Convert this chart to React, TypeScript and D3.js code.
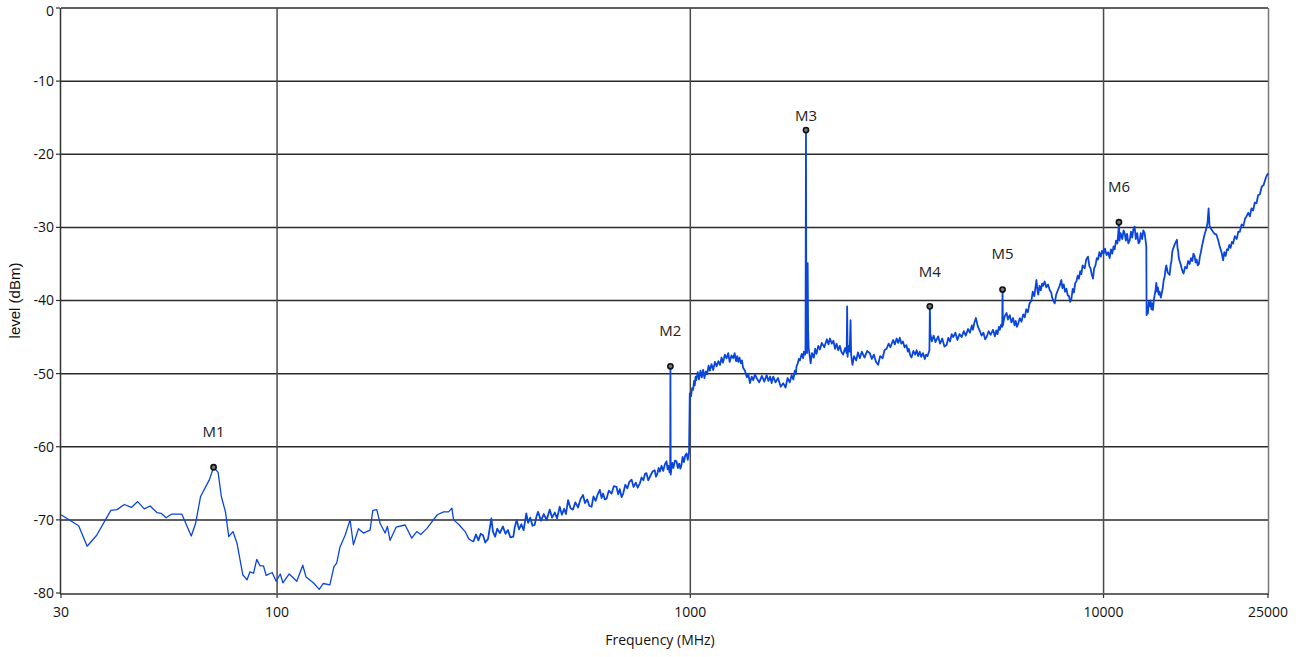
import React from "react";
import * as d3 from "d3";

// ---- data (frequency MHz, level dBm) ----
const traceLow: [number, number][] = [
  [30, -69.3], [33.1, -70.8], [34.7, -73.6], [36.6, -72.1], [39.6, -68.7], [41.0, -68.6],
  [42.7, -67.9], [44.4, -68.3], [46.0, -67.5], [47.7, -68.5], [49.3, -68.1], [51.2, -69.0],
  [52.4, -69.1], [53.9, -69.7], [55.6, -69.2], [58.8, -69.2], [62.0, -72.2], [63.5, -70.5],
  [65.3, -66.8], [68.6, -64.5], [70.2, -62.8], [72.0, -63.5], [73.3, -66.8], [75.0, -68.9],
  [76.4, -72.3], [78.2, -71.6], [80.0, -73.2], [82.6, -77.5], [84.6, -78.2], [86.0, -77.1],
  [87.7, -77.3], [89.3, -75.4], [91.0, -76.3], [92.7, -76.3], [94.1, -77.6], [97.3, -77.2],
  [99.5, -78.4], [101.8, -77.4], [103.3, -78.6], [107, -77.4], [111.6, -78.4], [115.4, -76.2],
  [117.5, -77.8], [122.4, -78.6], [126.5, -79.5], [129.4, -78.7], [134.2, -78.9], [137.3, -76.4],
  [139.4, -75.9], [142.0, -73.7], [146.1, -72.1], [150.2, -70.0], [153.0, -73.4], [157.4, -71.2],
  [161.8, -71.8], [167.9, -71.4], [170.5, -68.7], [174.3, -68.6], [177.6, -70.5], [182.6, -71.8],
  [184.9, -70.9], [187.7, -72.8], [194.1, -71.0], [204.1, -70.7], [211.8, -72.5], [217.8, -71.6],
  [222.7, -72.0], [230.3, -71.2], [238.9, -70.0], [244.3, -69.3], [252.9, -68.9], [259.9, -68.9],
  [264.9, -68.4], [267.3, -70.0], [275, -70.6], [285.2, -71.6], [291, -72.6], [298.3, -73.0],
];

const traceMid: [number, number][] = [
  [303, -72.0], [307, -72.8], [311, -71.9], [315, -72.1], [319, -73.1], [324, -72.6], [330, -69.8],
  [333, -71.6], [337, -72.3], [341, -71.2], [346, -71.8], [352, -70.9], [357, -71.9], [362, -71.4],
  [367, -72.4], [373, -72.3], [376, -71.0], [380, -70.0], [385, -71.3], [390, -70.6], [395, -71.4],
  [401, -69.1], [405, -70.4], [410, -69.7], [415, -70.8], [420, -70.7], [424, -69.6], [428, -68.9],
  [435, -70.1], [442, -69.2], [449, -70.0], [457, -68.6], [463, -69.7], [470, -69.0], [476, -69.8],
  [483, -68.2], [489, -69.3], [495, -68.5], [500, -69.2], [506, -67.3], [513, -68.4], [520, -68.6],
  [527, -67.6], [535, -68.3], [542, -67.2], [550, -66.6], [556, -67.7], [563, -67.2], [570, -68.1],
  [577, -68.2], [583, -66.8], [590, -67.4], [597, -66.5], [604, -65.9], [610, -67.0], [615, -66.4],
  [621, -67.2], [627, -67.1], [635, -66.0], [645, -66.4], [653, -65.4], [663, -65.5], [669, -66.5],
  [675, -65.8], [682, -66.9], [688, -66.4], [696, -65.2], [704, -65.7], [712, -64.8], [721, -64.5],
  [729, -65.5], [738, -64.9], [746, -65.6], [755, -65.0], [762, -64.2], [770, -64.6], [777, -63.7],
  [783, -63.6], [791, -64.6], [800, -64.0], [810, -63.4], [820, -63.2], [826, -64.1], [832, -63.7],
  [838, -62.9], [844, -63.4], [852, -62.6], [860, -63.3], [868, -62.4], [876, -62.0], [881, -63.1],
  [885, -62.6], [891, -63.5], [894, -63.2], [895, -49.0], [896.5, -63.8], [900, -63.0], [905, -62.2],
  [910, -62.9], [918, -61.9], [926, -62.0], [933, -62.9], [940, -62.3], [946, -63.0], [952, -62.5],
  [958, -61.4], [965, -62.1], [972, -61.2], [979, -60.9], [986, -61.8], [993, -60.7], [997, -52.7],
];

const traceHigh: [number, number][] = [
  [1004, -53.1], [1010, -52.0], [1016, -52.2], [1021, -51.0], [1025, -51.6], [1030, -50.4],
  [1034, -50.9], [1042, -49.8], [1050, -50.8], [1058, -49.6], [1066, -50.5], [1074, -49.5],
  [1082, -50.6], [1090, -49.7], [1098, -50.1], [1107, -48.9], [1115, -49.6], [1125, -48.7],
  [1136, -49.5], [1147, -48.4], [1158, -49.0], [1169, -48.3], [1180, -48.8], [1190, -47.8],
  [1200, -48.5], [1212, -47.4], [1224, -47.9], [1235, -47.2], [1245, -48.4], [1258, -47.5],
  [1270, -47.9], [1280, -47.2], [1290, -48.3], [1298, -47.6], [1306, -48.4], [1315, -47.8],
  [1325, -48.6], [1334, -48.2], [1342, -49.2], [1356, -49.6], [1370, -50.5], [1382, -50.1],
  [1394, -51.3], [1408, -50.4], [1420, -50.9], [1434, -50.1], [1447, -50.6], [1468, -51.2],
  [1490, -50.3], [1510, -51.1], [1530, -50.2], [1545, -51.0], [1560, -50.4], [1573, -51.3],
  [1587, -50.4], [1608, -51.2], [1630, -50.6], [1655, -51.8], [1678, -51.3], [1700, -51.9],
  [1720, -50.6], [1740, -51.2], [1759, -50.2], [1775, -50.8], [1790, -49.6], [1800, -50.1],
  [1807, -49.0], [1820, -48.6], [1830, -48.0], [1841, -48.2], [1860, -47.3], [1875, -47.9],
  [1883, -47.0], [1895, -47.4], [1900, -46.8], [1905, -16.7], [1909, -46.8], [1916, -47.2],
  [1923, -34.9], [1928, -44.0], [1933, -46.4], [1945, -47.6], [1955, -48.6], [1970, -47.2],
  [1990, -47.8], [2005, -46.6], [2020, -47.3], [2040, -46.2], [2059, -46.7], [2080, -45.8],
  [2110, -46.4], [2140, -45.3], [2160, -46.0], [2177, -45.2], [2200, -45.9], [2220, -45.5],
  [2240, -46.6], [2259, -45.9], [2280, -46.8], [2300, -46.2], [2320, -47.0], [2343, -47.4],
  [2370, -46.5], [2390, -47.2], [2396, -40.8], [2402, -47.7], [2415, -46.2], [2430, -47.0],
  [2442, -42.7], [2450, -47.4], [2460, -48.2], [2469, -48.8], [2490, -47.6], [2520, -48.2],
  [2545, -47.1], [2571, -47.9], [2600, -47.0], [2640, -47.8], [2680, -46.9], [2718, -47.2],
  [2750, -48.0], [2780, -47.4], [2815, -48.4], [2848, -48.8], [2880, -47.6], [2920, -47.9],
  [2950, -46.8], [2985, -46.6], [3020, -45.9], [3050, -46.4], [3096, -45.4], [3125, -46.0],
  [3157, -45.2], [3185, -45.8], [3213, -45.1], [3240, -45.9], [3270, -45.6], [3300, -46.4],
  [3334, -46.1], [3360, -47.0], [3380, -46.6], [3405, -47.5], [3430, -47.8], [3465, -46.9],
  [3500, -47.4], [3530, -46.8], [3559, -47.6], [3590, -47.0], [3620, -47.7], [3655, -47.2],
  [3694, -48.0], [3720, -47.4], [3750, -47.6], [3790, -46.8], [3799, -40.8], [3808, -44.5],
  [3840, -45.6], [3880, -44.8], [3920, -45.7], [3979, -44.9], [4020, -45.9], [4070, -45.2],
  [4120, -46.3], [4170, -46.1], [4210, -45.1], [4250, -45.6], [4290, -44.6], [4327, -45.0],
  [4380, -44.4], [4430, -45.4], [4480, -44.6], [4534, -45.0], [4590, -44.2], [4640, -44.8],
  [4700, -43.9], [4749, -44.4], [4800, -43.4], [4830, -44.0], [4870, -43.0], [4910, -42.4],
  [4960, -43.5], [5021, -44.2], [5070, -44.8], [5120, -44.4], [5170, -45.3], [5212, -45.0],
  [5270, -44.2], [5330, -44.7], [5400, -44.0], [5458, -44.9], [5500, -44.1], [5540, -44.6],
  [5580, -43.6], [5611, -44.0], [5650, -43.3], [5685, -43.6], [5696, -38.5], [5708, -43.4],
  [5740, -42.6], [5780, -42.0], [5825, -41.7], [5870, -42.6], [5930, -42.0], [5985, -43.0],
  [6042, -42.4], [6090, -43.4], [6130, -42.8], [6170, -43.6], [6212, -43.2], [6270, -42.4],
  [6330, -42.9], [6390, -41.9], [6447, -42.3], [6500, -41.2], [6560, -41.6], [6620, -40.4],
  [6692, -40.0], [6740, -38.8], [6800, -39.4], [6850, -38.0], [6880, -37.2], [6920, -38.6],
  [6950, -39.2], [7000, -38.0], [7050, -38.6], [7100, -37.7], [7137, -38.0], [7200, -37.4],
  [7270, -38.2], [7340, -37.8], [7410, -38.6], [7470, -38.9], [7510, -39.6], [7560, -40.0],
  [7617, -40.4], [7680, -39.2], [7750, -38.6], [7830, -38.0], [7906, -37.2], [7950, -38.3],
  [8010, -37.8], [8070, -38.8], [8129, -38.4], [8190, -39.3], [8250, -39.4], [8300, -40.2],
  [8359, -39.8], [8420, -38.4], [8480, -38.9], [8540, -37.6], [8594, -37.4], [8660, -36.6],
  [8720, -37.0], [8780, -36.0], [8836, -36.4], [8900, -35.2], [9000, -35.6], [9080, -34.4],
  [9168, -34.0], [9240, -35.3], [9300, -35.6], [9360, -36.4], [9427, -37.0], [9490, -35.6],
  [9560, -35.2], [9630, -34.2], [9693, -34.4], [9770, -33.4], [9850, -34.0], [9920, -33.2],
  [10000, -33.6], [10080, -32.9], [10170, -33.8], [10260, -33.4], [10346, -34.2], [10420, -33.0],
  [10500, -33.6], [10570, -32.6], [10638, -33.0], [10720, -31.8], [10800, -32.2], [10860, -30.6],
  [10895, -29.3], [10930, -31.8], [11000, -30.8], [11100, -31.6], [11180, -30.4], [11249, -30.8],
  [11320, -31.8], [11400, -30.9], [11480, -32.2], [11566, -31.8], [11650, -30.6], [11730, -31.4],
  [11810, -30.2], [11892, -29.9], [11970, -31.6], [12060, -30.8], [12150, -32.2], [12227, -32.0],
  [12300, -30.8], [12400, -31.6], [12480, -30.4], [12572, -30.8], [12640, -31.8], [12690, -32.6],
  [12710, -42.0], [12760, -41.0], [12800, -41.8], [12860, -40.2], [12926, -40.8], [12990, -40.0],
  [13050, -41.2], [13110, -40.4], [13167, -41.3], [13230, -40.0], [13300, -39.2], [13360, -38.6],
  [13417, -37.6], [13480, -38.8], [13540, -38.2], [13600, -39.2], [13667, -38.8], [13760, -39.6],
  [13900, -38.4], [13980, -37.2], [14050, -36.8], [14120, -35.8], [14186, -35.2], [14300, -36.2],
  [14450, -36.5], [14530, -35.2], [14600, -34.6], [14660, -33.4], [14719, -33.0], [14850, -32.4],
  [14960, -32.0], [15051, -31.7], [15100, -32.8], [15150, -33.2], [15210, -34.2], [15278, -34.6],
  [15360, -35.0], [15450, -35.6], [15530, -36.0], [15620, -36.3], [15750, -35.4], [15900, -35.6],
  [16020, -34.6], [16152, -35.0], [16280, -34.2], [16400, -34.6], [16500, -33.6], [16608, -33.9],
  [16700, -34.8], [16800, -34.4], [16900, -35.2], [17010, -35.0], [17100, -34.0], [17200, -33.4],
  [17300, -32.6], [17393, -32.0], [17550, -31.0], [17725, -30.2], [17850, -29.4], [17955, -27.4],
  [18050, -29.8], [18200, -30.2], [18400, -30.6], [18580, -30.9], [18763, -31.0], [18950, -31.8],
  [19100, -32.6], [19300, -33.4], [19467, -34.5], [19600, -33.4], [19750, -33.9], [19880, -33.0],
  [20016, -33.1], [20150, -32.4], [20300, -32.8], [20440, -32.0], [20580, -32.2], [20780, -31.2],
  [21000, -31.6], [21180, -30.6], [21367, -30.6], [21580, -29.6], [21800, -29.8], [22000, -28.8],
  [22178, -28.5], [22400, -28.0], [22600, -28.5], [22800, -27.4], [23012, -27.7], [23230, -26.6],
  [23450, -26.7], [23660, -25.6], [23883, -25.5], [24150, -24.4], [24400, -24.2], [24700, -23.2],
  [25000, -22.6],
];

const markerNames = ["M1", "M2", "M3", "M4", "M5", "M6"];
const markerFreqs = [70.2, 895, 1905, 3799, 5696, 10895];
const markerLevels = [-62.8, -49.0, -16.7, -40.8, -38.5, -29.3];
const markerLabelLevels = [-58.0, -44.2, -14.8, -36.1, -33.6, -24.5];

const xTickValues = [30, 100, 1000, 10000, 25000];
const yTickValues = [0, -10, -20, -30, -40, -50, -60, -70, -80];
const xGridValues = [100, 1000, 10000];
const yGridValues = [0, -10, -20, -30, -40, -50, -60, -70];

const W = 1301;
const H = 657;
const M = { left: 61, right: 1268, top: 8, bottom: 593 };

export default function App() {
  const x = d3.scaleLog().domain([30, 25000]).range([M.left, M.right]);
  const y = d3.scaleLinear().domain([-80, 0]).range([M.bottom, M.top]);
  const line = d3
    .line<[number, number]>()
    .x((d) => x(d[0]))
    .y((d) => y(d[1]));
  const noisy = [traceLow[traceLow.length - 1], ...traceMid, ...traceHigh];
  const tickFont = "'Open Sans', 'Noto Sans', sans-serif";

  return (
    <svg
      width={W}
      height={H}
      style={{ position: "absolute", left: 0, top: 0, background: "#fff" }}
    >
      {/* horizontal grid */}
      {yGridValues.map((v) => (
        <line key={"hg" + v} x1={M.left} x2={M.right} y1={y(v)} y2={y(v)} stroke="#2a2a2a" strokeWidth={1.5} />
      ))}
      {/* vertical grid */}
      {xGridValues.map((v) => (
        <line key={"vg" + v} x1={x(v)} x2={x(v)} y1={M.top} y2={M.bottom} stroke="#4a4a4a" strokeWidth={1.5} />
      ))}
      {/* right border */}
      <line x1={M.right + 0.5} x2={M.right + 0.5} y1={M.top} y2={M.bottom} stroke="#777" strokeWidth={1.5} />
      {/* left axis */}
      <line x1={M.left - 0.5} x2={M.left - 0.5} y1={M.top} y2={M.bottom + 1} stroke="#333" strokeWidth={1.5} />
      {yTickValues.map((v) => (
        <g key={"yt" + v}>
          <line x1={M.left - 5} x2={M.left - 1} y1={y(v)} y2={y(v)} stroke="#333" strokeWidth={1.2} />
          <text
            x={M.left - 7}
            y={Math.max(y(v), M.top + 3)}
            dy="0.35em"
            textAnchor="end"
            fontFamily={tickFont}
            fontSize={14}
            fill="#111"
          >
            {v}
          </text>
        </g>
      ))}
      {/* bottom axis */}
      <line x1={M.left - 1} x2={M.right + 1} y1={M.bottom + 1} y2={M.bottom + 1} stroke="#333" strokeWidth={1.5} />
      {xTickValues.map((v) => (
        <g key={"xt" + v}>
          <line x1={x(v)} x2={x(v)} y1={M.bottom + 1} y2={M.bottom + 5} stroke="#333" strokeWidth={1.2} />
          <text x={x(v)} y={M.bottom + 24} textAnchor="middle" fontFamily={tickFont} fontSize={14} fill="#111">
            {v}
          </text>
        </g>
      ))}
      <text x={660} y={645} textAnchor="middle" fontFamily={tickFont} fontSize={14} fill="#111">
        Frequency (MHz)
      </text>
      <text
        transform={`translate(20,${(M.top + M.bottom) / 2}) rotate(-90)`}
        textAnchor="middle"
        fontFamily="'Liberation Sans', Arial, sans-serif"
        fontSize={15}
        fill="#111"
      >
        level (dBm)
      </text>
      {/* trace */}
      <path d={line(traceLow) || ""} fill="none" stroke="#0a46dc" strokeWidth={1.3} strokeLinejoin="round" />
      <path d={line(noisy) || ""} fill="none" stroke="#0a46dc" strokeWidth={1.8} strokeLinejoin="round" />
      {/* markers */}
      {markerNames.map((n, i) => (
        <g key={n}>
          <circle cx={x(markerFreqs[i])} cy={y(markerLevels[i])} r={2.6} fill="#777" stroke="#111" strokeWidth={1.6} />
          <text
            x={x(markerFreqs[i])}
            y={y(markerLabelLevels[i])}
            dy="0.35em"
            textAnchor="middle"
            fontFamily={tickFont}
            fontSize={15}
            fill="#222"
          >
            {n}
          </text>
        </g>
      ))}
    </svg>
  );
}
